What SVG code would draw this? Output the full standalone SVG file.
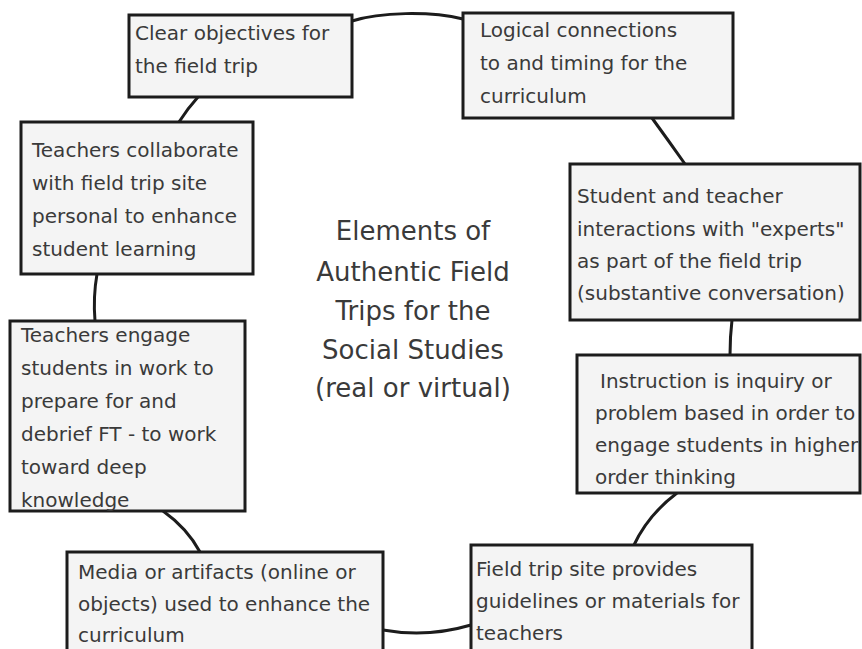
<svg xmlns="http://www.w3.org/2000/svg" width="862" height="649" viewBox="0 0 862 649">
<style>
.box{fill:#f4f4f4;stroke:#1c1c1c;stroke-width:3}
.t{font-family:"DejaVu Sans",Verdana,sans-serif;font-size:20px;fill:#3a3a3a}
.c{font-family:"DejaVu Sans",Verdana,sans-serif;font-size:26px;fill:#3a3a3a;text-anchor:middle}
.conn{fill:none;stroke:#1c1c1c;stroke-width:3}
</style>
<rect width="862" height="649" fill="#ffffff"/>
<g id="connectors">
<path class="conn" d="M352,21 C380,12 430,11 463,19"/>
<path class="conn" d="M198,97 Q188,108 179,122"/>
<path class="conn" d="M652,118 Q668,140 685,164"/>
<path class="conn" d="M97,274 Q93,297 95,321"/>
<path class="conn" d="M732,320 Q730,337 730,355"/>
<path class="conn" d="M163,511 Q187,528 200,552"/>
<path class="conn" d="M677,493 Q648,515 634,545"/>
<path class="conn" d="M383,630 Q427,638 471,625"/>
</g>
<g id="center">
<text class="c" x="413" y="240">Elements of</text>
<text class="c" x="413" y="281">Authentic Field</text>
<text class="c" x="413" y="320">Trips for the</text>
<text class="c" x="413" y="359">Social Studies</text>
<text class="c" x="413" y="397">(real or virtual)</text>
</g>
<g id="n1">
<rect class="box" x="129" y="15" width="223" height="82"/>
<text class="t" x="135" y="40">Clear objectives for</text>
<text class="t" x="135" y="73">the field trip</text>
</g>
<g id="n2">
<rect class="box" x="463" y="13" width="270" height="105"/>
<text class="t" x="480" y="37">Logical connections</text>
<text class="t" x="480" y="70">to and timing for the</text>
<text class="t" x="480" y="103">curriculum</text>
</g>
<g id="n3">
<rect class="box" x="21" y="122" width="232" height="152"/>
<text class="t" x="32" y="157">Teachers collaborate</text>
<text class="t" x="32" y="190">with field trip site</text>
<text class="t" x="32" y="223">personal to enhance</text>
<text class="t" x="32" y="256">student learning</text>
</g>
<g id="n4">
<rect class="box" x="570" y="164" width="290" height="156"/>
<text class="t" x="577" y="203">Student and teacher</text>
<text class="t" x="577" y="236">interactions with "experts"</text>
<text class="t" x="577" y="268">as part of the field trip</text>
<text class="t" x="577" y="300">(substantive conversation)</text>
</g>
<g id="n5">
<rect class="box" x="10" y="321" width="235" height="190"/>
<text class="t" x="21" y="342">Teachers engage</text>
<text class="t" x="21" y="375">students in work to</text>
<text class="t" x="21" y="408">prepare for and</text>
<text class="t" x="21" y="441">debrief FT - to work</text>
<text class="t" x="21" y="474">toward deep</text>
<text class="t" x="21" y="507">knowledge</text>
</g>
<g id="n6">
<rect class="box" x="577" y="355" width="283" height="138"/>
<text class="t" x="600" y="388">Instruction is inquiry or</text>
<text class="t" x="595" y="420">problem based in order to</text>
<text class="t" x="595" y="452">engage students in higher</text>
<text class="t" x="595" y="484">order thinking</text>
</g>
<g id="n7">
<rect class="box" x="67" y="552" width="316" height="110"/>
<text class="t" x="78" y="579">Media or artifacts (online or</text>
<text class="t" x="78" y="611">objects) used to enhance the</text>
<text class="t" x="78" y="642">curriculum</text>
</g>
<g id="n8">
<rect class="box" x="471" y="545" width="281" height="117"/>
<text class="t" x="476" y="576">Field trip site provides</text>
<text class="t" x="476" y="608">guidelines or materials for</text>
<text class="t" x="476" y="640">teachers</text>
</g>
</svg>
